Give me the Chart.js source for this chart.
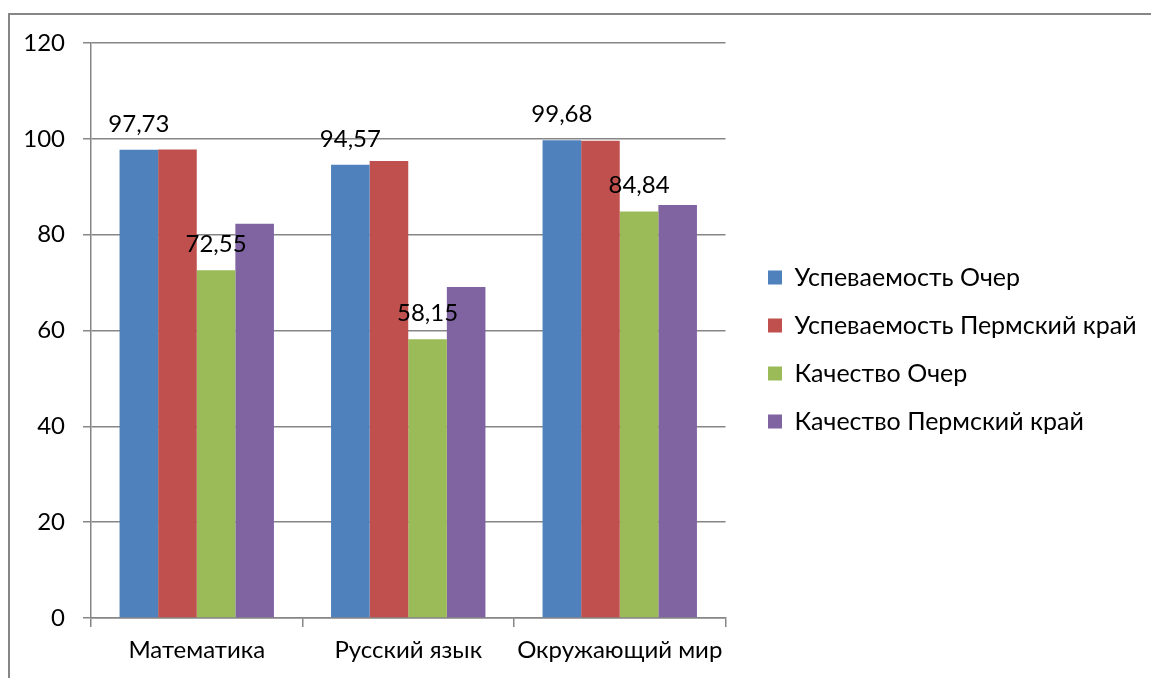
<!DOCTYPE html>
<html>
<head>
<meta charset="utf-8">
<script src="https://cdn.jsdelivr.net/npm/chart.js@4.4.1/dist/chart.umd.min.js"></script>
<style>
  html, body { margin: 0; padding: 0; background: #fff; }
  #wrap { position: relative; width: 1151px; height: 678px; overflow: hidden; }
  #frame { position: absolute; left: 8px; top: 13px; width: 1200px; height: 700px; border-left: 2px solid #868686; border-top: 2px solid #868686; box-sizing: border-box; }
  canvas { position: absolute; left: 0; top: 0; }
</style>
</head>
<body>
<div id="wrap">
  <div id="frame"></div>
  <canvas id="c" width="1151" height="678"></canvas>
</div>
<script>
const categories = ['Математика', 'Русский язык', 'Окружающий мир'];
const seriesNames = ['Успеваемость Очер', 'Успеваемость Пермский край', 'Качество Очер', 'Качество Пермский край'];
const uspevOcher = [97.73, 94.57, 99.68];
const uspevPerm = [97.8, 95.4, 99.6];
const kachOcher = [72.55, 58.15, 84.84];
const kachPerm = [82.3, 69.1, 86.2];
const yTicks = [0, 20, 40, 60, 80, 100, 120];
const labelledSeries = [0, 2];

const colors = ['#4F81BD', '#C0504D', '#9BBB59', '#8064A2'];
const FONT = 'Lato, "Open Sans", sans-serif';
const FS = 24;
const LEG_FS = 25;
const LEG_PAD = 23;
const BOX = 14;
const PLOT_RIGHT = 725.5;
const LEG_BOX_X = 768;

// measure legend width so the plot area ends where it should
const mctx = document.createElement('canvas').getContext('2d');
mctx.font = LEG_FS + 'px ' + FONT;
const maxText = Math.max(...seriesNames.map(s => mctx.measureText(s).width));
const legendW = LEG_PAD + BOX + LEG_FS / 2 + maxText + 10;
const padRight = Math.max(0, 1151 - PLOT_RIGHT - legendW);

const valueLabels = {
  id: 'valueLabels',
  afterDatasetsDraw(chart) {
    const ctx = chart.ctx;
    ctx.save();
    ctx.font = FS + 'px ' + FONT;
    ctx.fillStyle = '#000';
    ctx.textAlign = 'center';
    ctx.textBaseline = 'alphabetic';
    labelledSeries.forEach(di => {
      const meta = chart.getDatasetMeta(di);
      meta.data.forEach((bar, i) => {
        const v = chart.data.datasets[di].data[i];
        ctx.fillText(v.toFixed(2).replace('.', ','), bar.x, bar.y - 18);
      });
    });
    ctx.restore();
  }
};

const legendShift = {
  id: 'legendShift',
  afterLayout(chart) {
    const l = chart.legend;
    const dx = LEG_BOX_X - (l.left + LEG_PAD), dy = -11;
    l.left += dx; l.right += dx; l.top += dy; l.bottom += dy;
  }
};

new Chart(document.getElementById('c'), {
  type: 'bar',
  data: {
    labels: categories,
    datasets: [uspevOcher, uspevPerm, kachOcher, kachPerm].map((d, i) => ({
      label: seriesNames[i],
      data: d,
      backgroundColor: colors[i],
      borderWidth: 0,
      categoryPercentage: 0.73,
      barPercentage: 1.0
    }))
  },
  options: {
    responsive: false,
    animation: false,
    devicePixelRatio: 1,
    layout: { padding: { top: 43, left: 0, right: padRight, bottom: 0 } },
    plugins: {
      tooltip: { enabled: false },
      legend: {
        position: 'right',
        maxWidth: 600,
        labels: {
          boxWidth: BOX,
          boxHeight: BOX,
          padding: LEG_PAD,
          color: '#000',
          font: { family: FONT, size: LEG_FS }
        }
      }
    },
    scales: {
      x: {
        grid: { display: true, drawOnChartArea: false, color: '#868686', tickLength: 9, offset: true, lineWidth: 1.5 },
        border: { color: '#868686', width: 1.5 },
        ticks: { color: '#000', font: { family: FONT, size: FS }, padding: 9 },
        afterFit(s) { s.height = 60; }
      },
      y: {
        min: 0, max: 120,
        afterBuildTicks(s) { s.ticks = yTicks.map(v => ({ value: v })); },
        grid: { color: '#868686', tickLength: 8, lineWidth: 1.5 },
        border: { color: '#868686', width: 1.5 },
        ticks: { color: '#000', font: { family: FONT, size: FS }, padding: 18 },
        afterFit(s) { s.width = 91; }
      }
    }
  },
  plugins: [valueLabels, legendShift]
});
</script>
</body>
</html>
